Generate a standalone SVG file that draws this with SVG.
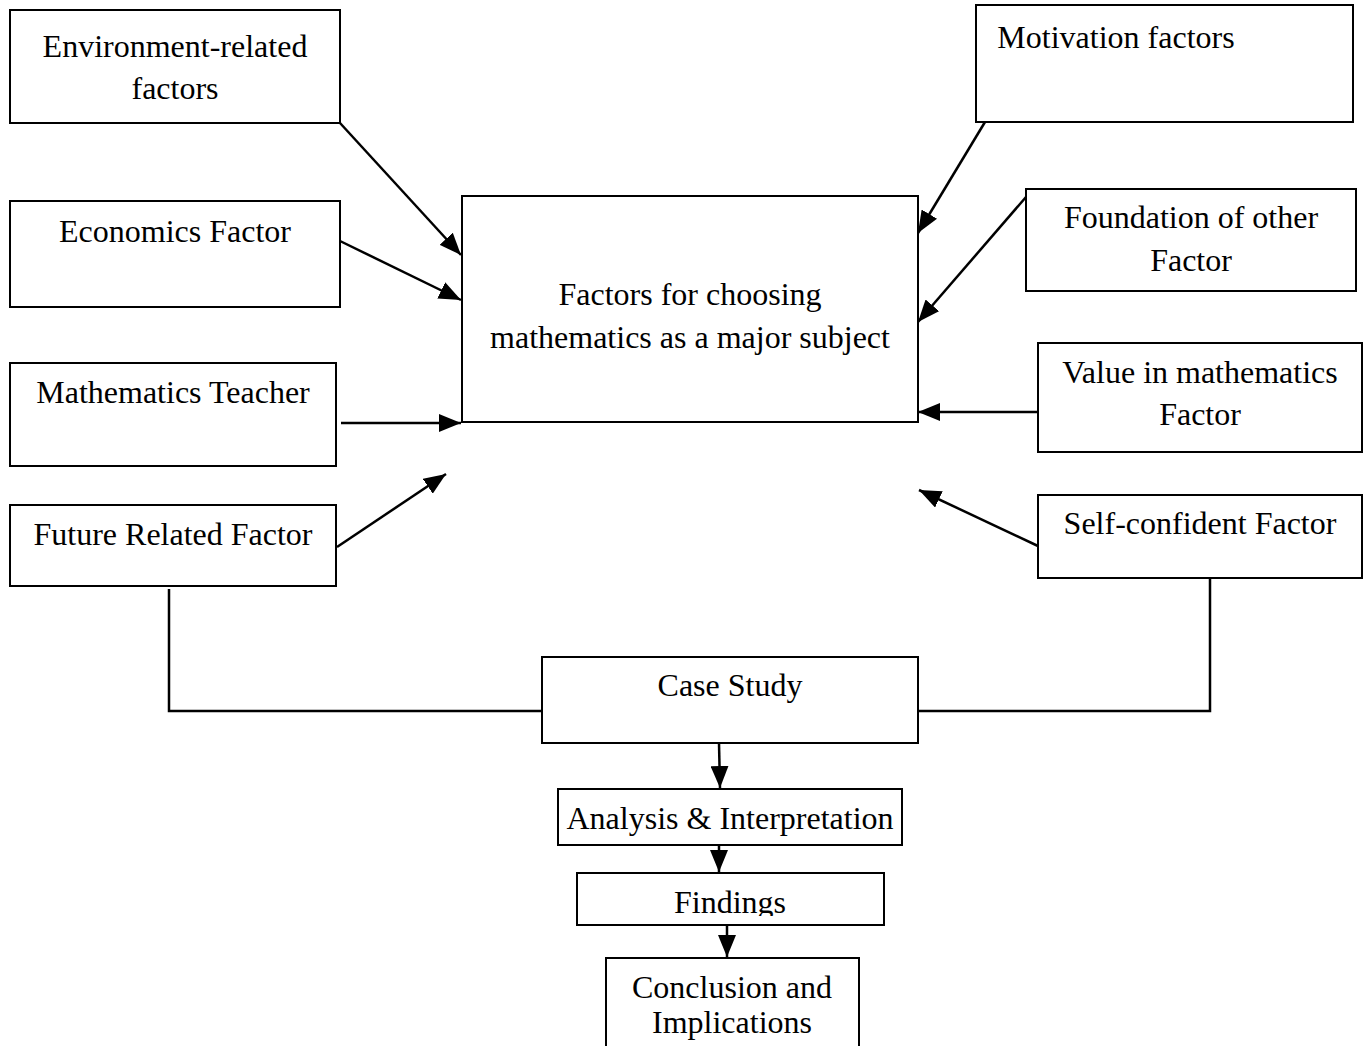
<svg xmlns="http://www.w3.org/2000/svg" width="1369" height="1046" viewBox="0 0 1369 1046">
<style>
rect{fill:#fff;stroke:#000;stroke-width:2}
text{font-family:"Liberation Serif","Times New Roman",serif;font-size:32px;fill:#000;text-anchor:middle}
.c line,.c polyline{stroke:#000;stroke-width:2.5;fill:none}
</style>
<defs>
<marker id="ah" markerUnits="userSpaceOnUse" markerWidth="24" markerHeight="18" refX="22" refY="9" orient="auto">
<path d="M0,0 L22,9 L0,18 z" fill="#000"/>
</marker>
<clipPath id="fc"><rect x="570" y="870" width="320" height="46"/></clipPath>
</defs>
<rect x="0" y="0" width="1369" height="1046" style="stroke:none"/>
<g id="env"><rect x="10" y="10" width="330" height="113"/><text x="175" y="57">Environment-related</text><text x="175" y="99">factors</text></g>
<g id="econ"><rect x="10" y="201" width="330" height="106"/><text x="175" y="242">Economics Factor</text></g>
<g id="teacher"><rect x="10" y="363" width="326" height="103"/><text x="173" y="403">Mathematics Teacher</text></g>
<g id="future"><rect x="10" y="505" width="326" height="81"/><text x="173" y="545">Future Related Factor</text></g>
<g id="center"><rect x="462" y="196" width="456" height="226"/><text x="690" y="305">Factors for choosing</text><text x="690" y="348">mathematics as a major subject</text></g>
<g id="motivation"><rect x="976" y="5" width="377" height="117"/><text x="1116" y="48">Motivation factors</text></g>
<g id="foundation"><rect x="1026" y="189" width="330" height="102"/><text x="1191" y="228">Foundation of other</text><text x="1191" y="271">Factor</text></g>
<g id="value"><rect x="1038" y="343" width="324" height="109"/><text x="1200" y="383">Value in mathematics</text><text x="1200" y="425">Factor</text></g>
<g id="self"><rect x="1038" y="495" width="324" height="83"/><text x="1200" y="534">Self-confident Factor</text></g>
<g id="case"><rect x="542" y="657" width="376" height="86"/><text x="730" y="696">Case Study</text></g>
<g id="analysis"><rect x="558" y="789" width="344" height="56"/><text x="730" y="829">Analysis &amp; Interpretation</text></g>
<g id="findings"><rect x="577" y="873" width="307" height="52"/><text x="730" y="913" clip-path="url(#fc)">Findings</text></g>
<g id="conclusion"><rect x="606" y="958" width="253" height="100"/><text x="732" y="998">Conclusion and</text><text x="732" y="1033">Implications</text></g>
<g id="connectors" class="c">
<line x1="340" y1="123" x2="461" y2="255" marker-end="url(#ah)"/>
<line x1="340" y1="241" x2="461" y2="300" marker-end="url(#ah)"/>
<line x1="341" y1="423" x2="461" y2="423" marker-end="url(#ah)"/>
<line x1="337" y1="547" x2="446" y2="474" marker-end="url(#ah)"/>
<line x1="985" y1="122" x2="918" y2="233" marker-end="url(#ah)"/>
<line x1="1026" y1="197" x2="918" y2="322" marker-end="url(#ah)"/>
<line x1="1038" y1="412" x2="918" y2="412" marker-end="url(#ah)"/>
<line x1="1038" y1="546" x2="919" y2="490" marker-end="url(#ah)"/>
<polyline points="169,589 169,711 542,711"/>
<polyline points="1210,578 1210,711 918,711"/>
<line x1="719" y1="743" x2="720" y2="788" marker-end="url(#ah)"/>
<line x1="719" y1="845" x2="719" y2="872" marker-end="url(#ah)"/>
<line x1="727" y1="925" x2="727" y2="957" marker-end="url(#ah)"/>
</g>
</svg>
